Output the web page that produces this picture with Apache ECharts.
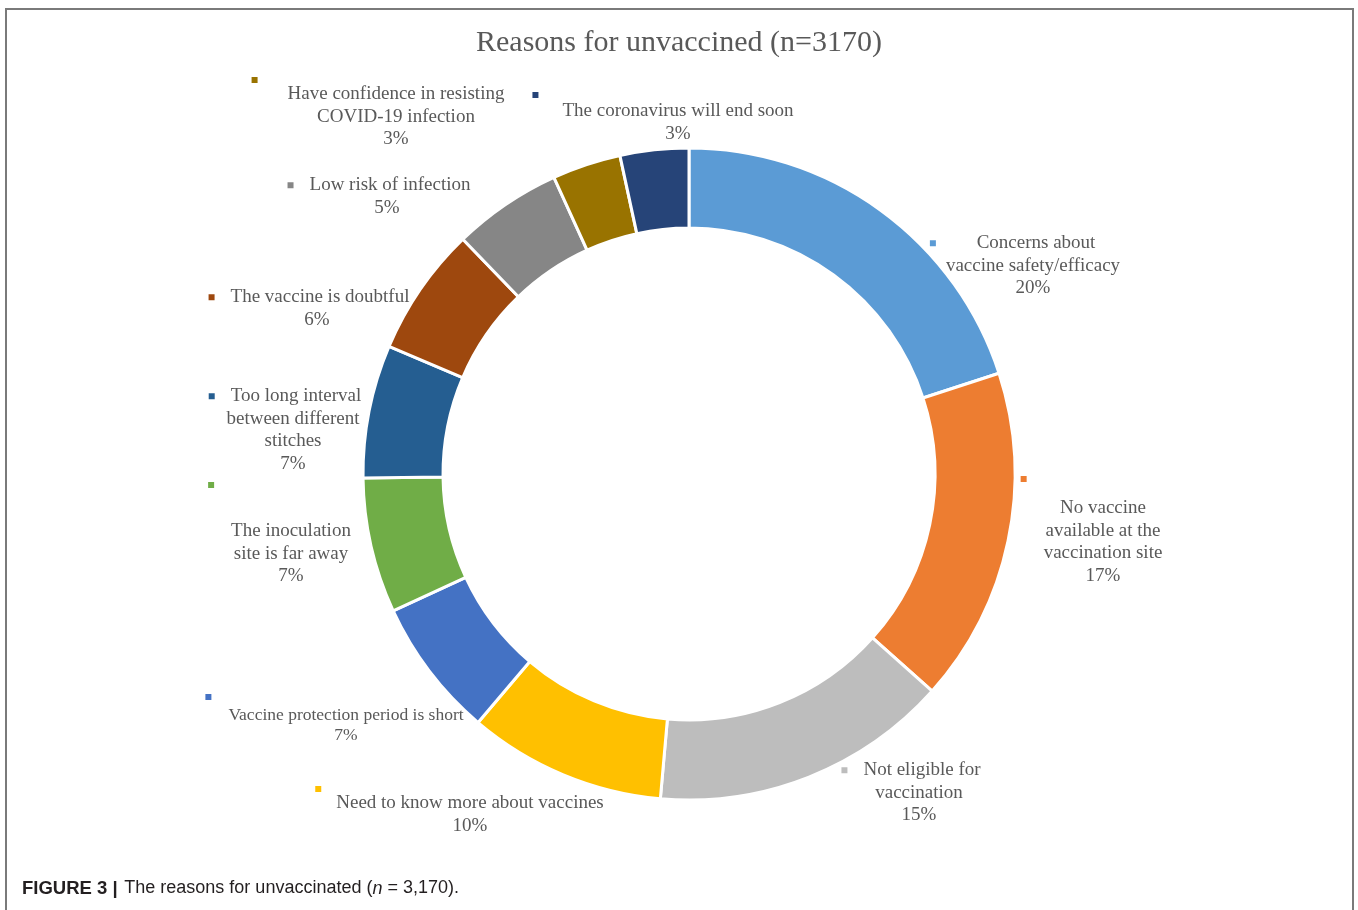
<!DOCTYPE html>
<html>
<head>
<meta charset="utf-8">
<script src="https://cdn.jsdelivr.net/npm/echarts@6/dist/echarts.min.js"></script>
<style>
  html, body { margin: 0; padding: 0; background: #fff; }
  #frame {
    position: absolute; left: 5px; top: 8px; width: 1349px; height: 930px;
    border: 2px solid #7a7a7a; box-sizing: border-box;
  }
  #main { position: absolute; left: 0; top: 0; width: 1358px; height: 910px; }
</style>
</head>
<body>
<div id="frame"></div>
<div id="main"></div>
<script>
// 数据
var reasons = [
  ['Concerns about', 'vaccine safety/efficacy'],
  ['No vaccine', 'available at the', 'vaccination site'],
  ['Not eligible for', 'vaccination'],
  ['Need to know more about vaccines'],
  ['Vaccine protection period is short'],
  ['The inoculation', 'site is far away'],
  ['Too long interval', 'between different', 'stitches'],
  ['The vaccine is doubtful'],
  ['Low risk of infection'],
  ['Have confidence in resisting', 'COVID-19 infection'],
  ['The coronavirus will end soon']
];
var shares = [20.0, 16.6, 14.8, 9.8, 6.9, 6.7, 6.6, 6.4, 5.4, 3.4, 3.4];
var colors = ['#5B9BD5', '#ED7D31', '#BDBDBD', '#FFC000', '#4472C4', '#70AD47',
  '#255E91', '#9E480E', '#868686', '#997300', '#264478'];

// 标签位置 [中心x, 顶部y], key 方式, key 行高, key 左边距
var labelAt = [[1033, 232], [1103, 461], [919, 759], [470, 786], [346, 689], [291, 450],
  [293, 385], [317, 286], [387, 174], [396, 77], [678, 90]];
var keyMode = ['inline', 'above', 'inline', 'above', 'above', 'above',
  'inline', 'inline', 'inline', 'above', 'above'];
var keyLine = [0, 36, 0, 6, 16, 70, 0, 0, 0, 6, 10];
var keyPad = [16, 23, 16, 21, 23, 23, 16, 16, 16, 36, 30];

var serif = '"Liberation Serif", "DejaVu Serif", serif';

function buildLabel(i) {
  var lines = reasons[i].concat([Math.round(shares[i]) + '%']);
  var small = (i === 4);
  var txt = '';
  for (var k = 0; k < lines.length; k++) {
    var line = '{t|' + lines[k] + '}';
    if (k === 0 && keyMode[i] === 'inline') {
      line = '{sq|}' + line;
    }
    txt += (k > 0 ? '\n' : '') + line;
  }
  if (keyMode[i] === 'above') {
    txt = '{sq|}\n' + txt;
  }
  return {
    show: true,
    formatter: txt,
    rich: {
      sq: {
        width: 6, height: 6, backgroundColor: colors[i], align: 'left',
        verticalAlign: 'middle',
        lineHeight: keyMode[i] === 'above' ? keyLine[i] : (small ? 20 : 22.5)
      },
      t: {
        fontFamily: serif, fontSize: small ? 17.5 : 19, color: '#595959',
        lineHeight: small ? 20 : 22.5, align: 'center', padding: [0, keyPad[i]]
      }
    }
  };
}

var pieData = [];
for (var i = 0; i < shares.length; i++) {
  pieData.push({
    name: reasons[i].join(' '),
    value: shares[i],
    itemStyle: { color: colors[i] },
    label: buildLabel(i)
  });
}

var chart = echarts.init(document.getElementById('main'), null, { renderer: 'canvas' });

var option = {
  animation: false,
  title: {
    text: 'Reasons for unvaccined (n=3170)',
    left: 'center',
    top: 23,
    textStyle: { fontFamily: serif, fontSize: 30, fontWeight: 'normal', color: '#595959' }
  },
  series: [{
    type: 'pie',
    center: [689, 474],
    radius: [246, 326],
    startAngle: 90,
    clockwise: true,
    avoidLabelOverlap: false,
    itemStyle: { borderColor: '#fff', borderWidth: 3 },
    label: { position: 'outside' },
    labelLine: { show: false },
    labelLayout: function (params) {
      var p = labelAt[params.dataIndex];
      return { x: p[0], y: p[1], align: 'center', verticalAlign: 'top' };
    },
    data: pieData
  }],
  graphic: [{
    type: 'text',
    left: 22,
    top: 879,
    style: {
      text: '{b|FIGURE 3 |}  {r|The reasons for unvaccinated (}{i|n}{r| = 3,170).}',
      rich: {
        b: { fontFamily: '"Liberation Sans", Arial, sans-serif', fontSize: 18.5, fontWeight: 'bold', fill: '#231f20' },
        r: { fontFamily: '"Liberation Sans", Arial, sans-serif', fontSize: 18, fill: '#231f20' },
        i: { fontFamily: '"Liberation Sans", Arial, sans-serif', fontSize: 18, fontStyle: 'italic', fill: '#231f20' }
      }
    }
  }]
};

chart.setOption(option);
</script>
</body>
</html>
